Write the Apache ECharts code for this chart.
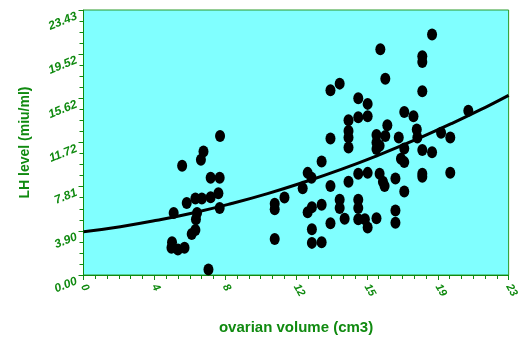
<!DOCTYPE html>
<html lang="en">
<head>
    <meta charset="UTF-8">
    <title>LH level vs ovarian volume</title>
    <script src="https://cdn.jsdelivr.net/npm/echarts@6/dist/echarts.min.js"></script>
</head>
<style type="text/css">
    html, body { margin: 0; padding: 0; background: #fff; }
    #main { width: 521px; height: 340px; }
</style>
<body>
<div id="main"></div>
<script type="text/javascript">
    // ovarian volume (cm3)
    var volume = [
        7.42, 6.52, 6.38, 5.36, 6.91, 7.40, 7.33, 6.91, 6.43, 6.08, 5.61, 7.40, 4.90, 6.17, 6.11, 6.08, 5.88, 4.81, 4.78, 5.13, 5.49, 6.79,
        13.92, 13.42, 14.93, 14.93, 14.40, 14.40, 14.40, 14.40, 13.42, 12.94, 12.18, 12.39, 14.93, 14.40, 13.42, 11.91, 10.92, 10.39, 10.39,
        12.94, 12.41, 12.18, 13.92, 13.92, 14.93, 14.93, 14.19, 14.93, 13.42, 12.41, 10.39, 12.41, 12.94,
        18.94, 16.13, 18.41, 18.41, 16.40, 18.41, 15.44, 15.44, 17.43, 17.93, 20.91, 16.51, 15.92, 15.92, 15.92, 16.40, 16.09, 17.13,
        18.11, 18.14, 19.43, 19.93, 17.43, 18.41, 18.94, 17.25, 17.43, 15.44, 16.09, 16.27, 16.36, 16.95, 18.41, 18.41, 19.93, 17.43,
        15.29, 15.44, 15.92, 16.95, 16.95
    ];
    // LH level (miu/ml)
    var lhLevel = [
        12.30, 10.91, 10.18, 9.66, 8.59, 8.59, 7.23, 6.88, 6.77, 6.77, 6.36, 5.93, 5.49, 5.49, 4.92, 3.97, 3.62, 2.89, 2.40, 2.26, 2.40, 0.49,
        16.92, 16.34, 15.62, 13.95, 13.69, 12.73, 12.15, 11.28, 12.06, 10.04, 9.03, 8.59, 8.96, 8.24, 7.87, 7.66, 6.86, 6.31, 5.81,
        6.22, 5.99, 5.55, 6.66, 5.93, 6.66, 5.93, 4.97, 4.92, 4.57, 4.05, 3.18, 2.84, 2.89,
        21.26, 19.96, 19.35, 18.83, 17.36, 16.25, 15.13, 14.03, 14.41, 14.03, 14.52, 13.25, 12.38, 11.72, 11.13, 12.30, 11.43, 12.15,
        12.87, 12.15, 12.58, 12.15, 11.19, 11.05, 10.85, 10.27, 9.98, 9.03, 8.96, 8.24, 7.87, 8.53, 8.96, 8.68, 9.05, 7.38,
        4.92, 4.19, 5.01, 5.70, 4.63
    ];
    // fitted curve
    var curveX = [0, 2, 4, 6, 8, 10, 12, 14, 16, 18, 20, 22, 23.1];
    var curveY = [3.82, 4.27, 4.84, 5.51, 6.30, 7.20, 8.22, 9.34, 10.58, 11.93, 13.39, 14.96, 15.88];

    var xTickLabels = ['0', '4', '8', '12', '15', '19', '23'];
    var yTickLabels = ['0.00', '3.90', '7.81', '11.72', '15.62', '19.52', '23.43'];

    var green = '#108a10';
    var xStep = 3.85, yStep = 3.905;

    var points = [];
    for (var i = 0; i < volume.length; i++) {
        points.push([volume[i], lhLevel[i]]);
    }
    var curve = [];
    for (var j = 0; j < curveX.length; j++) {
        curve.push([curveX[j], curveY[j]]);
    }

    var myChart = echarts.init(document.getElementById('main'));
    var option = {
        animation: false,
        grid: {left: 83.5, right: 5, top: 10, bottom: 60.5, show: true,
            backgroundColor: '#80ffff', borderColor: '#2a9a2a', borderWidth: 1},
        xAxis: {
            type: 'value', min: 0, max: 23.1, interval: xStep,
            name: 'ovarian volume (cm3)', nameLocation: 'middle', nameGap: 45,
            nameTextStyle: {color: green, fontSize: 15, fontWeight: 'bold', fontFamily: 'Liberation Sans'},
            axisLine: {lineStyle: {color: green}},
            axisTick: {show: true, length: 5, lineStyle: {color: green}},
            minorTick: {show: true, splitNumber: 6, length: 4, lineStyle: {color: green}},
            splitLine: {show: false},
            axisLabel: {
                color: green, fontSize: 11, fontWeight: 'bold', fontStyle: 'italic', fontFamily: 'Liberation Sans',
                rotate: -60, margin: 10, showMaxLabel: true,
                formatter: function (v) { return xTickLabels[Math.round(v / xStep)] || ''; }
            }
        },
        yAxis: {
            type: 'value', min: 0, max: 23.43, interval: yStep,
            name: 'LH level (miu/ml)', nameLocation: 'middle', nameGap: 51,
            nameTextStyle: {color: green, fontSize: 14, fontWeight: 'bold', fontFamily: 'Liberation Sans'},
            axisLine: {show: true, lineStyle: {color: green}},
            axisTick: {show: true, length: 5, lineStyle: {color: green}},
            minorTick: {show: true, splitNumber: 4, length: 4, lineStyle: {color: green}},
            splitLine: {show: false},
            axisLabel: {
                color: green, fontSize: 12, fontWeight: 'bold', fontStyle: 'italic', fontFamily: 'Liberation Sans',
                rotate: 22, margin: 9, verticalAlign: 'top',
                formatter: function (v) { return yTickLabels[Math.round(v / yStep)] || ''; }
            }
        },
        series: [
            {type: 'scatter', data: points, symbol: 'circle', symbolSize: [10, 12],
                itemStyle: {color: '#000', opacity: 1}},
            {type: 'line', data: curve, smooth: true, showSymbol: false,
                lineStyle: {color: '#000', width: 3}}
        ]
    };
    myChart.setOption(option);
</script>
</body>
</html>
